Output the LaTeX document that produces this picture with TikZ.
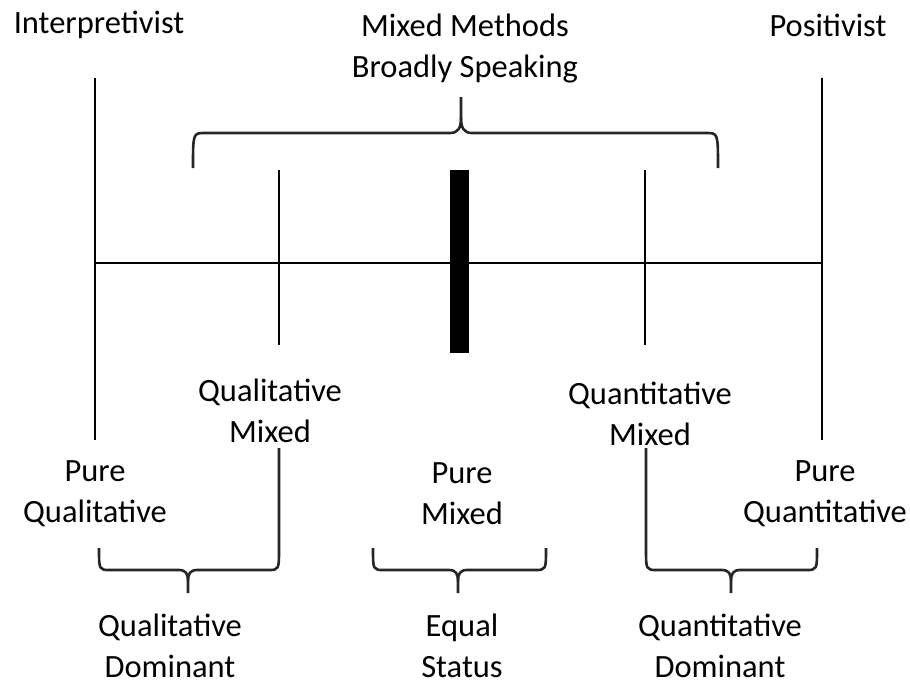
\documentclass[tikz,border=0pt]{standalone}
\usepackage{fontspec}
\setmainfont{Carlito}
\begin{document}
\begin{tikzpicture}[x=1pt,y=-1pt,
  lbl/.style={align=center,font=\fontsize{32.5}{41}\selectfont,inner sep=0pt},
  thin/.style={line width=1.8pt,black},
  brc/.style={line width=2.6pt,black!85,line join=round}]
\useasboundingbox (0,0) rectangle (910,686);
% axis coordinates
\coordinate (L1) at (95,78); \coordinate (L2) at (95,440);
\coordinate (R1) at (822,78); \coordinate (R2) at (822,440);
\coordinate (H1) at (95,263); \coordinate (H2) at (822,263);
\coordinate (QL1) at (279,170); \coordinate (QL2) at (279,345);
\coordinate (QN1) at (645,170); \coordinate (QN2) at (645,345);
\draw[thin] (L1) -- (L2);
\draw[thin] (R1) -- (R2);
\draw[thin] (H1) -- (H2);
\draw[thin] (QL1) -- (QL2);
\draw[thin] (QN1) -- (QN2);
\fill (450,170) rectangle (469,353);
% top brace
\draw[brc] (193,168) .. controls (193,133) .. (205,133) -- (450,133)
  .. controls (458,133) and (461,128) .. (461,118) -- (461,97);
\draw[brc] (461,118) .. controls (461,128) and (464,133) .. (472,133) -- (706,133)
  .. controls (718,133) .. (718,168);
% bottom braces
\draw[brc] (99,548) .. controls (99,570) .. (110,570) -- (179,570)
  .. controls (186,570) and (188,574) .. (188,581) -- (188,593);
\draw[brc] (188,581) .. controls (188,574) and (190,570) .. (197,570) -- (268,570)
  .. controls (279,570) .. (279,548) -- (279,448);
\draw[brc] (373,548) .. controls (373,570) .. (384,570) -- (449,570)
  .. controls (456,570) and (458,574) .. (458,581) -- (458,593);
\draw[brc] (458,581) .. controls (458,574) and (460,570) .. (467,570) -- (535,570)
  .. controls (546,570) .. (546,548);
\draw[brc] (646,448) -- (646,548) .. controls (646,570) .. (657,570) -- (722,570)
  .. controls (729,570) and (731,574) .. (731,581) -- (731,593);
\draw[brc] (731,581) .. controls (731,574) and (733,570) .. (740,570) -- (806,570)
  .. controls (817,570) .. (817,548);
% labels
\node[lbl] (interp) at (99,25) {Interpretivist};
\node[lbl] (mm) at (465,49) {Mixed Methods\\Broadly Speaking};
\node[lbl] (pos) at (828,25) {Positivist};
\node[lbl] (qlm) at (270,411) {Qualitative\\Mixed};
\node[lbl] (qnm) at (650,414) {Quantitative\\Mixed};
\node[lbl] (pql) at (95,494) {Pure\\Qualitative};
\node[lbl] (pmx) at (462,494) {Pure\\Mixed};
\node[lbl] (pqn) at (825,494) {Pure\\Quantitative};
\node[lbl] (qld) at (170,646) {Qualitative\\Dominant};
\node[lbl] (eqs) at (462,646) {Equal\\Status};
\node[lbl] (qnd) at (720,646) {Quantitative\\Dominant};
\end{tikzpicture}
\end{document}
